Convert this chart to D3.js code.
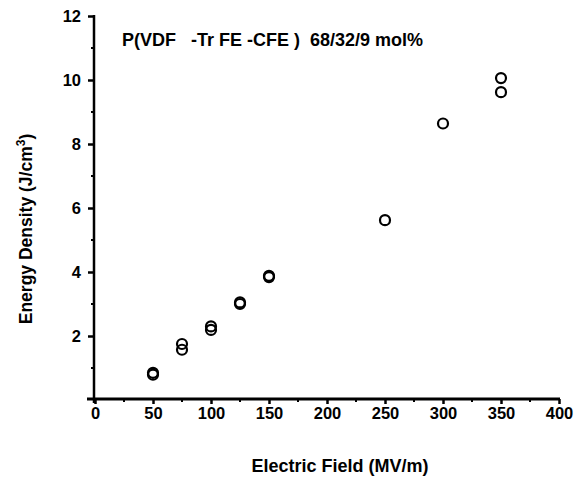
<!DOCTYPE html>
<html>
<head>
<meta charset="utf-8">
<script src="https://cdn.jsdelivr.net/npm/d3@7"></script>
<style>
    body { margin: 0; background: #fff; }
    svg text { font-family: Arial, "Liberation Sans", sans-serif; font-weight: bold; fill: #000; white-space: pre; }
</style>
</head>
<body>
<div id="chart"></div>
<script>
(function() {
    'use strict';

    // Data
    var fieldValues = [50, 50, 75, 75, 100, 100, 125, 125, 150, 150, 250, 300, 350, 350];
    var energyValues = [0.85, 0.79, 1.75, 1.57, 2.3, 2.19, 3.05, 3.0, 3.88, 3.84, 5.62, 8.64, 10.06, 9.62];
    var xTicks = [0, 50, 100, 150, 200, 250, 300, 350, 400];
    var yTicks = [2, 4, 6, 8, 10, 12];
    var xMinor = [25, 75, 125, 175, 225, 275, 325, 375];
    var yMinor = [1, 3, 5, 7, 9, 11];
    var title = "P(VDF   -Tr FE -CFE )  68/32/9 mol%";

    var width = 581, height = 481;

    var svg = d3.select("#chart").append("svg")
        .attr("width", width)
        .attr("height", height);

    // Scales
    var xScale = d3.scaleLinear().domain([0, 400]).range([95, 559]);
    var yScale = d3.scaleLinear().domain([0, 12]).range([400, 16]);

    // Axes
    var xAxis = d3.axisBottom(xScale).tickValues(xTicks).tickSize(5).tickPadding(3);
    var yAxis = d3.axisLeft(yScale).tickValues(yTicks).tickSize(6).tickPadding(7);

    var gx = svg.append("g").attr("transform", "translate(0,399)").call(xAxis);
    var gy = svg.append("g").attr("transform", "translate(94,0)").call(yAxis);

    [gx, gy].forEach(function(g) {
        g.select(".domain").remove();
        g.selectAll(".tick line").attr("stroke", "#000").attr("stroke-width", 2.5);
        g.selectAll(".tick text").style("font-size", "16.5px");
    });

    // axis lines drawn by hand so they extend a bit like the original
    svg.append("line")
        .attr("x1", 87).attr("x2", xScale(400) + 1)
        .attr("y1", 399).attr("y2", 399)
        .attr("stroke", "#000").attr("stroke-width", 2.8);
    svg.append("line")
        .attr("x1", 94).attr("x2", 94)
        .attr("y1", yScale(12) - 1).attr("y2", 403)
        .attr("stroke", "#000").attr("stroke-width", 2.5);

    // minor ticks
    svg.selectAll(".xminor").data(xMinor).enter().append("line")
        .attr("class", "xminor")
        .attr("x1", function(d) { return xScale(d); })
        .attr("x2", function(d) { return xScale(d); })
        .attr("y1", 399).attr("y2", 402)
        .attr("stroke", "#000").attr("stroke-width", 2);
    svg.selectAll(".yminor").data(yMinor).enter().append("line")
        .attr("class", "yminor")
        .attr("x1", 91).attr("x2", 94)
        .attr("y1", function(d) { return yScale(d); })
        .attr("y2", function(d) { return yScale(d); })
        .attr("stroke", "#000").attr("stroke-width", 2);

    // Points
    svg.selectAll(".pt").data(fieldValues).enter().append("circle")
        .attr("class", "pt")
        .attr("cx", function(d) { return xScale(d); })
        .attr("cy", function(d, i) { return yScale(energyValues[i]); })
        .attr("r", 5)
        .attr("fill", "none")
        .attr("stroke", "#000")
        .attr("stroke-width", 2.2);

    // Title
    svg.append("text")
        .attr("x", 122).attr("y", 46)
        .style("font-size", "18px")
        .text(title);

    // Axis labels
    svg.append("text")
        .attr("x", 340).attr("y", 472)
        .attr("text-anchor", "middle")
        .style("font-size", "18px")
        .text("Electric Field (MV/m)");

    var yl = svg.append("text")
        .attr("transform", "translate(32,229) rotate(-90)")
        .attr("text-anchor", "middle")
        .style("font-size", "17.5px");
    yl.append("tspan").text("Energy Density (J/cm");
    yl.append("tspan").attr("dy", -7).style("font-size", "12px").text("3");
    yl.append("tspan").attr("dy", 7).text(")");
})();
</script>
</body>
</html>
